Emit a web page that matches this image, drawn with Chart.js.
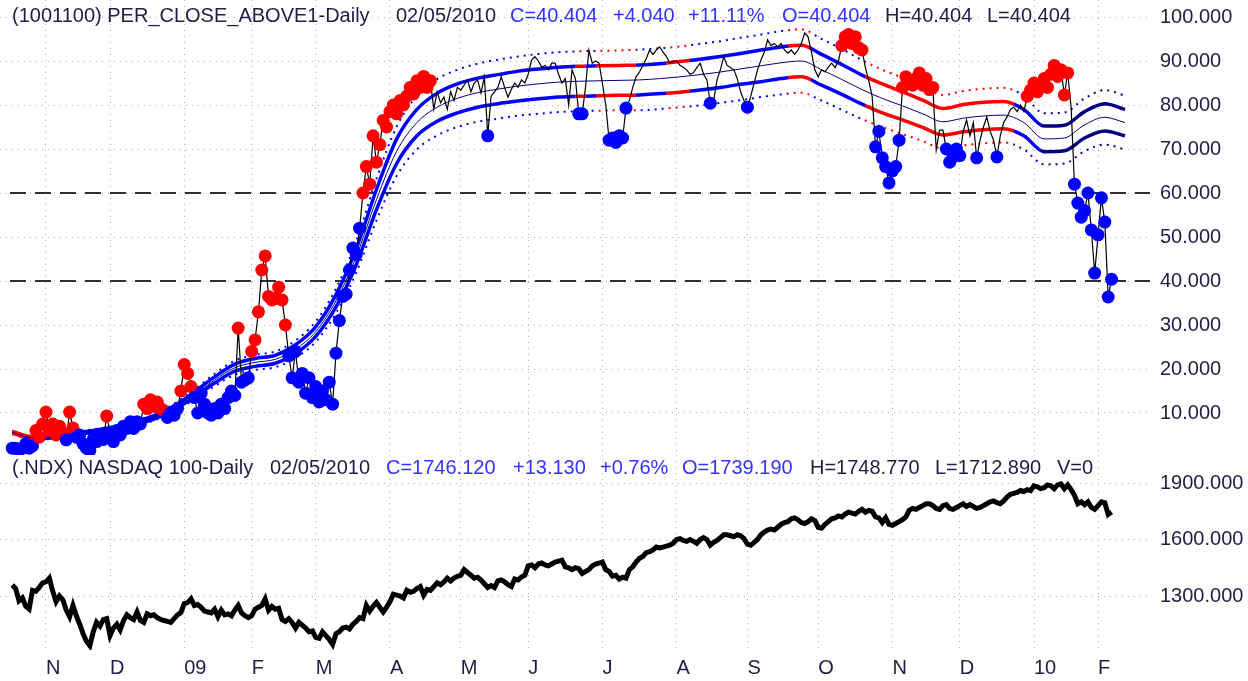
<!DOCTYPE html>
<html>
<head>
<meta charset="utf-8">
<script src="https://cdn.jsdelivr.net/npm/chart.js@4.4.1/dist/chart.umd.min.js"></script>
<style>
  html, body { margin: 0; padding: 0; background: #fff; }
  #wrap { position: relative; width: 1248px; height: 681px; overflow: hidden; background: #fff; }
  #topChart { position: absolute; left: 0; top: 0; }
  #botChart { position: absolute; left: 0; top: 455px; }
</style>
</head>
<body>
<div id="wrap">
  <canvas id="topChart" width="1248" height="455"></canvas>
  <canvas id="botChart" width="1248" height="226"></canvas>
</div>
<script>
// one value per trading day, Oct 20 2008 .. Feb 5 2010 (index 0..326)
const perClose = [
  2, 2, 1.5, 2, 3, 2, 2.5, 6, 4.5, 7.5,
  10.2, 6, 7.5, 5, 7, 5.5, 3.9, 10.2, 6.6, 4.5, 5, 3, 2, 1.5, 4, 3.5, 5, 4, 9.3,
  5.5, 3.5, 6, 5, 7, 6.5, 8, 6.5, 8, 7.5, 12, 11, 13, 11.5, 12.5, 11, 10.5, 9, 10, 9.5, 11, 15,
  21, 19, 16, 13.5, 10, 14.5, 12, 10, 9.5, 11, 10, 12, 11, 13.5, 15, 14, 29.3, 17, 17.5, 18,
  24, 26.6, 33, 42.5, 45.7, 36.5, 35.7, 36, 38.6, 35.7, 30, 23, 18, 24, 17, 19, 14.5, 18, 13.5,
  16, 12.5, 15, 13, 17, 12, 23.6, 31, 36.5, 37, 42.5, 47.5, 46, 52, 60, 66, 62, 73, 67, 71, 76.5, 75,
  78.5, 80, 78, 81, 80, 82, 84, 82.5, 85.5, 84, 86.5, 84, 85.5, 79, 83, 80.5, 81.8, 79, 83, 81, 84,
  83.4, 84.5, 85.7, 83, 85, 85.7, 82.7, 86.4, 73, 82, 83, 84, 86.4, 84, 81.8, 83.5, 85, 84, 85.7, 85,
  87, 90.2, 91, 90, 88.6, 89, 88, 89.5, 89.5, 87, 85, 86, 80, 88, 86, 78, 78, 84, 92.5, 89.5, 90, 89.5,
  85, 80, 72, 72.5, 71.5, 73, 72.5, 79.3, 81, 84, 86.4, 87.5, 89, 90.5, 92.5, 91.5, 92.5, 93.2, 92, 91, 89.5, 90,
  90, 89, 88.6, 88, 87, 87.3, 88.5, 89.5, 87, 85.7, 80.4, 81, 85.7, 88, 91, 89, 88.5, 88, 86, 83, 81,
  79.5, 82, 85, 88, 90.2, 92, 94.8, 93.5, 94, 93.2, 94, 92.5, 91.8, 92.5, 91.5, 92.5, 94, 96.4, 95.5, 92, 88,
  86.4, 88, 87.5, 88.6, 89.5, 88.5, 90, 93.5, 95.5, 96, 94, 95.5, 93, 92.5, 88.5, 85.5, 82, 70.5, 74, 68, 66, 62.3,
  65, 66, 72, 84, 86.4, 85, 84.5, 86, 87.3, 84.5, 86, 83.5, 84, 69.8, 74.3, 74.3, 70, 67, 68.2, 70,
  68.5, 74, 76.6, 73, 76, 68, 72, 75, 77.3, 74, 72, 68.2, 73, 76, 77.3, 79, 79.5, 78.5, 80, 78.5, 82, 83.4,
  85, 83, 84.5, 86, 84, 87, 89, 86.5, 88, 82.3, 87.3, 79.5, 62, 57.7, 54.5, 56, 60, 51.6, 41.8,
  50.5, 58.9, 53.4, 36.364, 40.404
];

const ndxClose = [
  1358, 1340, 1275, 1290, 1245, 1230, 1330, 1325, 1345, 1370,
  1375, 1395, 1325, 1270, 1300, 1280, 1225, 1190, 1250, 1195, 1150, 1100, 1060, 1036, 1110, 1160, 1140, 1175, 1180,
  1090, 1130, 1150, 1120, 1170, 1200, 1185, 1175, 1215, 1170, 1160, 1205, 1195, 1200, 1185, 1175, 1170, 1165, 1160, 1180, 1200, 1212,
  1260, 1265, 1285, 1250, 1255, 1240, 1220, 1215, 1210, 1230, 1190, 1225, 1200, 1205, 1195, 1225, 1250, 1210, 1195, 1185,
  1195, 1230, 1240, 1250, 1285, 1225, 1245, 1230, 1235, 1175, 1165, 1180, 1160, 1130, 1160, 1145, 1130, 1110, 1115,
  1080, 1075, 1110, 1090, 1070, 1043, 1100, 1110, 1130, 1135, 1125, 1150, 1165, 1185, 1180, 1250, 1220, 1245, 1265, 1240, 1215, 1240,
  1270, 1310, 1305, 1300, 1290, 1330, 1320, 1325, 1340, 1350, 1305, 1335, 1330, 1350, 1370, 1360, 1375, 1395, 1380, 1395, 1405,
  1410, 1440, 1425, 1410, 1395, 1400, 1385, 1365, 1345, 1355, 1345, 1380, 1385, 1375, 1360, 1350, 1390, 1385, 1400, 1410,
  1460, 1465, 1450, 1470, 1475, 1465, 1460, 1470, 1480, 1485, 1490, 1455, 1450, 1440, 1450, 1445, 1420, 1430, 1440, 1460, 1470, 1475,
  1480, 1440, 1430, 1405, 1410, 1390, 1400, 1395, 1440, 1455, 1480, 1500, 1510, 1530, 1535, 1545, 1560, 1555, 1560, 1565, 1570, 1580,
  1600, 1605, 1595, 1590, 1600, 1590, 1580, 1600, 1610, 1600, 1570, 1585, 1595, 1610, 1625, 1625, 1620, 1615, 1625, 1620, 1605,
  1575, 1570, 1585, 1600, 1625, 1640, 1650, 1655, 1650, 1665, 1680, 1690, 1695, 1710, 1715, 1705, 1690, 1685, 1695, 1710, 1700,
  1665, 1660, 1680, 1695, 1710, 1715, 1725, 1720, 1735, 1745, 1740, 1735, 1750, 1760, 1745, 1755, 1750, 1720, 1715, 1690, 1715, 1680,
  1675, 1685, 1695, 1705, 1720, 1755, 1765, 1760, 1770, 1780, 1790, 1790, 1780, 1765, 1760, 1780, 1785, 1765, 1760, 1770,
  1780, 1790, 1775, 1785, 1775, 1765, 1770, 1780, 1790, 1800, 1805, 1795, 1790, 1805, 1825, 1840, 1845, 1850, 1860, 1855, 1865, 1860,
  1885, 1880, 1870, 1875, 1890, 1885, 1870, 1890, 1895, 1870, 1890, 1865, 1835, 1790, 1800, 1785, 1800, 1770, 1760,
  1780, 1800, 1795, 1733, 1746.12
];

// envelope lines, read every 6 trading days (index 0, 6, ... 330)
const bandMid = [5.6, 4.4, 4.5, 5.2, 5.8, 6.5, 7.6, 9.0, 11.2, 14.2, 17.5, 20.3, 21.5, 22.2, 24.5, 28.5, 35.5, 45.5, 58.5, 69.5,
  76.0, 79.5, 81.5, 82.8, 83.6, 84.3, 84.8, 85.2, 85.4, 85.5, 85.6, 85.7, 86.0, 86.4, 86.9, 87.5, 88.2, 88.9, 89.6, 90.0,
  88.0, 85.8, 83.5, 81.5, 79.8, 78.0, 76.2, 77.0, 77.5, 77.7, 76.0, 72.3, 72.5, 75.5, 77.2, 76.0];
const bandUpper = [5.8, 4.6, 4.7, 5.4, 6.0, 6.8, 7.9, 9.4, 11.6, 14.8, 18.2, 21.1, 22.4, 23.1, 25.5, 29.6, 36.9, 47.3, 60.8, 72.3,
  79.0, 82.7, 84.8, 86.1, 86.9, 87.7, 88.2, 88.6, 88.8, 88.9, 89.0, 89.1, 89.4, 89.9, 90.4, 91.0, 91.7, 92.5, 93.2, 93.6,
  91.5, 89.2, 86.8, 84.8, 83.0, 81.1, 79.2, 80.1, 80.6, 80.8, 79.0, 75.2, 75.4, 78.5, 80.3, 79.0];
const bandLower = [5.4, 4.2, 4.3, 5.0, 5.6, 6.2, 7.3, 8.6, 10.8, 13.6, 16.8, 19.5, 20.6, 21.3, 23.5, 27.4, 34.1, 43.7, 56.2, 66.7,
  73.0, 76.3, 78.2, 79.5, 80.3, 80.9, 81.4, 81.8, 82.0, 82.1, 82.2, 82.3, 82.6, 82.9, 83.4, 84.0, 84.7, 85.3, 86.0, 86.4,
  84.5, 82.4, 80.2, 78.2, 76.6, 74.9, 73.2, 73.9, 74.4, 74.6, 73.0, 69.4, 69.6, 72.5, 74.1, 73.0];
const outerUpper = [6.0, 4.8, 4.9, 5.6, 6.3, 7.0, 8.2, 9.7, 12.1, 15.3, 18.9, 21.9, 23.2, 24.0, 26.5, 30.8, 38.3, 49.1, 63.2, 75.1,
  82.1, 85.9, 88.0, 89.4, 90.3, 91.0, 91.6, 92.0, 92.2, 92.3, 92.4, 92.6, 92.9, 93.3, 93.9, 94.5, 95.3, 96.0, 96.8, 97.2,
  95.0, 92.7, 90.2, 88.0, 86.2, 84.2, 82.3, 83.2, 83.7, 83.9, 82.1, 78.1, 78.3, 81.5, 83.4, 82.1];
const outerLower = [5.2, 4.0, 4.1, 4.8, 5.3, 6.0, 7.0, 8.3, 10.3, 13.1, 16.1, 18.7, 19.8, 20.4, 22.5, 26.2, 32.7, 41.9, 53.8, 63.9,
  69.9, 73.1, 75.0, 76.2, 76.9, 77.6, 78.0, 78.4, 78.6, 78.7, 78.8, 78.8, 79.1, 79.5, 79.9, 80.5, 81.1, 81.8, 82.4, 82.8,
  81.0, 78.9, 76.8, 75.0, 73.4, 71.8, 70.1, 70.8, 71.3, 71.5, 69.9, 66.5, 66.7, 69.5, 71.0, 69.9];

// days flagged above / below the envelope (index ranges)
const upSignals = [[7, 15], [17, 18], [28, 28], [39, 45], [50, 53], [67, 67], [71, 81], [104, 124],
  [246, 252], [264, 273], [301, 313]];
const downSignals = [[0, 6], [16, 16], [19, 27], [29, 38], [46, 49], [54, 66], [68, 70], [82, 103],
  [141, 141], [168, 169], [177, 182], [207, 207], [218, 218], [256, 263], [277, 281], [286, 286],
  [292, 292], [315, 326]];

// band colour by index range
const bandColors = [[0, 8, '#ff0000'], [8, 167, '#0000ff'], [167, 170, '#ff0000'], [170, 173, '#0000ff'],
  [173, 185, '#ff0000'], [185, 194, '#0000ff'], [194, 201, '#ff0000'], [201, 230, '#0000ff'],
  [230, 237, '#ff0000'], [237, 253, '#0000ff'], [253, 297, '#ff0000'], [297, 305, '#0000ff'], [305, 340, '#000080']];

const monthStart = [10, 29, 51, 71, 90, 112, 133, 153, 175, 197, 218, 239, 261, 281, 303, 322];
const monthLabels = ['N', 'D', '09', 'F', 'M', 'A', 'M', 'J', 'J', 'A', 'S', 'O', 'N', 'D', '10', 'F'];
const topTicks = [10, 20, 30, 40, 50, 60, 70, 80, 90, 100];
const botTicks = [1300, 1600, 1900];
const refLevels = [60, 40];

const FONT = '"Liberation Sans", Arial, sans-serif';
const DARK = '#1e1e46';
const BLUE = '#3333ff';

const bandIdx = bandMid.map((_, k) => k * 6);
const toPts = (xs, ys) => ys.map((v, k) => ({ x: xs[k], y: v }));
const dayIdx = perClose.map((_, i) => i);

const signal = perClose.map(() => 0);
upSignals.forEach(([a, b]) => { for (let i = a; i <= b; i++) signal[i] = 1; });
downSignals.forEach(([a, b]) => { for (let i = a; i <= b; i++) signal[i] = -1; });

function bandGradient(chart) {
    const { ctx, chartArea, scales } = chart;
    if (!chartArea || !scales.x) return '#0000ff';
    const w = chartArea.right - chartArea.left;
    const g = ctx.createLinearGradient(chartArea.left, 0, chartArea.right, 0);
    const stop = i => Math.min(1, Math.max(0, (scales.x.getPixelForValue(i) - chartArea.left) / w));
    bandColors.forEach(([a, b, c]) => {
        g.addColorStop(stop(a), c);
        g.addColorStop(stop(b), c);
    });
    return g;
}

const headerPlugin = {
    id: 'header',
    afterDatasetsDraw(chart, args, opts) {
        const ctx = chart.ctx;
        ctx.save();
        ctx.font = '20px ' + FONT;
        ctx.textBaseline = 'middle';
        opts.items.forEach(([text, x, color]) => {
            ctx.fillStyle = color;
            ctx.fillText(text, x, opts.y);
        });
        ctx.restore();
    }
};

const refLinePlugin = {
    id: 'refLines',
    beforeDatasetsDraw(chart) {
        const { ctx, chartArea, scales: { y } } = chart;
        ctx.save();
        ctx.strokeStyle = '#303030';
        ctx.lineWidth = 2;
        ctx.setLineDash([16, 9]);
        refLevels.forEach(v => {
            const py = Math.round(y.getPixelForValue(v));
            ctx.beginPath();
            ctx.moveTo(chartArea.left + 10, py);
            ctx.lineTo(chartArea.right, py);
            ctx.stroke();
        });
        ctx.restore();
    }
};

// x: trading-day index; chart area 0..1150 px
const X_MIN = -3.64, X_MAX = 337.4;

function xScale(showLabels) {
    return {
        type: 'linear', min: X_MIN, max: X_MAX,
        afterBuildTicks: s => { s.ticks = monthStart.map(v => ({ value: v })); },
        grid: { color: '#b0b0b0', lineWidth: 1, drawTicks: false },
        border: { display: false, dash: [1, 5] },
        ticks: {
            display: showLabels, autoSkip: false, maxRotation: 0, align: 'start', padding: 6,
            color: DARK, font: { family: FONT, size: 20 },
            callback: (v, i) => monthLabels[i]
        },
        afterFit: s => { s.height = showLabels ? 31 : 0; s.paddingLeft = 0; s.paddingRight = 0; }
    };
}

function yScale(min, max, ticks) {
    return {
        position: 'right', min, max,
        afterBuildTicks: s => { s.ticks = ticks.map(v => ({ value: v })); },
        grid: { color: '#b0b0b0', lineWidth: 1, drawTicks: false },
        border: { display: false, dash: [1, 5] },
        ticks: { padding: 10, color: DARK, font: { family: FONT, size: 20 }, callback: v => v.toFixed(3) },
        afterFit: s => { s.width = 98; s.paddingTop = 0; s.paddingBottom = 0; }
    };
}

const baseOptions = {
    responsive: false, animation: false, events: [], devicePixelRatio: 1,
    layout: { padding: 0, autoPadding: false }
};

const bandDs = (values, width, dash, color) => ({
    data: toPts(bandIdx, values), borderColor: color, borderWidth: width, borderDash: dash,
    pointRadius: 0, cubicInterpolationMode: 'monotone', fill: false
});

new Chart(document.getElementById('topChart'), {
    type: 'line',
    data: {
        datasets: [
            {
                data: toPts(dayIdx, perClose), borderColor: '#000000', borderWidth: 1.2, tension: 0,
                pointStyle: 'circle', pointBorderWidth: 0,
                pointRadius: ctx => signal[ctx.dataIndex] ? 6.5 : 0,
                pointBackgroundColor: ctx => signal[ctx.dataIndex] > 0 ? '#ff0000' : '#0000ff'
            },
            bandDs(bandMid, 1, [], '#000080'),
            bandDs(bandUpper, 3.5, [], ctx => bandGradient(ctx.chart)),
            bandDs(bandLower, 3.5, [], ctx => bandGradient(ctx.chart)),
            bandDs(outerUpper, 2, [2, 5], ctx => bandGradient(ctx.chart)),
            bandDs(outerLower, 2, [2, 5], ctx => bandGradient(ctx.chart))
        ]
    },
    options: {
        ...baseOptions,
        plugins: {
            legend: { display: false }, tooltip: { enabled: false },
            header: {
                y: 16,
                items: [
                    ['(1001100) PER_CLOSE_ABOVE1-Daily', 12, DARK], ['02/05/2010', 396, DARK],
                    ['C=40.404', 510, BLUE], ['+4.040', 613, BLUE], ['+11.11%', 688, BLUE], ['O=40.404', 782, BLUE],
                    ['H=40.404', 885, DARK], ['L=40.404', 987, DARK]
                ]
            }
        },
        scales: { x: xScale(false), y: yScale(0.4545, 103.864, topTicks) }
    },
    plugins: [refLinePlugin, headerPlugin]
});

new Chart(document.getElementById('botChart'), {
    type: 'line',
    data: {
        datasets: [{
            data: toPts(dayIdx, ndxClose), borderColor: '#000000', borderWidth: 5, pointRadius: 0, tension: 0
        }]
    },
    options: {
        ...baseOptions,
        plugins: {
            legend: { display: false }, tooltip: { enabled: false },
            header: {
                y: 13,
                items: [
                    ['(.NDX) NASDAQ 100-Daily', 12, DARK], ['02/05/2010', 270, DARK],
                    ['C=1746.120', 386, BLUE], ['+13.130', 513, BLUE], ['+0.76%', 600, BLUE], ['O=1739.190', 682, BLUE],
                    ['H=1748.770', 810, DARK], ['L=1712.890', 935, DARK], ['V=0', 1057, DARK]
                ]
            }
        },
        scales: { x: xScale(true), y: yScale(1013.3, 2048.7, botTicks) }
    },
    plugins: [headerPlugin]
});
</script>
</body>
</html>
